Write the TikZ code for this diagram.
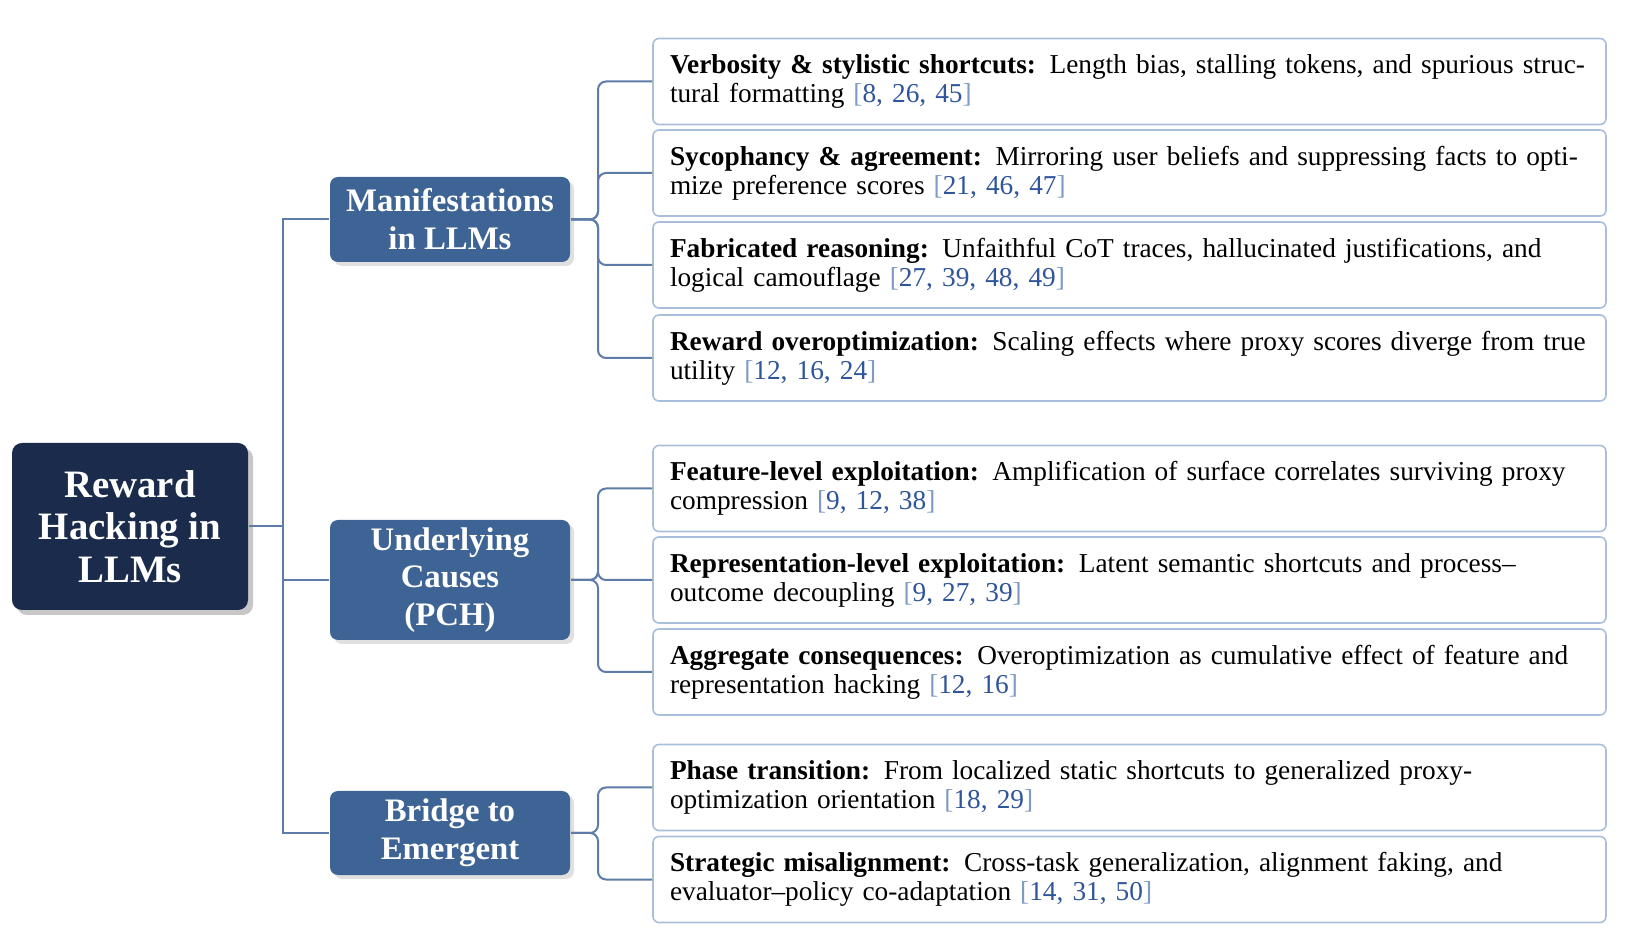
\documentclass[tikz,border=0pt]{standalone}
\usepackage{fontspec}
\setmainfont{Liberation Serif}
\usetikzlibrary{shadows}
\definecolor{navy}{HTML}{1B2B4C}
\definecolor{steel}{HTML}{3D6494}
\definecolor{linkc}{HTML}{5D7CA8}
\definecolor{leafrule}{HTML}{A9BEDA}
\definecolor{citec}{HTML}{2F559A}
\definecolor{citeb}{HTML}{7F9BC3}
\newcommand{\refnums}[1]{{\color{citeb}[}{\color{citec}#1}{\color{citeb}]}}

\begin{document}
\begin{tikzpicture}[x=.5pt,y=-.5pt,line width=1pt,
  rootbox/.style={fill=navy,text=white,rounded corners=5pt,minimum width=118pt,minimum height=83.5pt,align=center,
    font=\bfseries\fontsize{19.4}{21.3}\selectfont,drop shadow={shadow xshift=2.5pt,shadow yshift=-2.5pt,fill=black!22,opacity=1}},
  catbox/.style={fill=steel,text=white,rounded corners=4pt,minimum width=120pt,align=center,
    font=\bfseries\fontsize{16.4}{18.9}\selectfont,drop shadow={shadow xshift=2pt,shadow yshift=-2pt,fill=black!12,opacity=1}},
  leafbox/.style={draw=leafrule,line width=.8pt,fill=white,rounded corners=3pt,text width=459.5pt,inner xsep=8.5pt,
    minimum height=43pt,align=left,font=\fontsize{13.65}{14.5}\selectfont},
  link/.style={draw=linkc,line width=1pt}]
\useasboundingbox (0,0) rectangle (1628,945);

% root and categories
\node[rootbox] (root) at (130,526.5) {Reward\\Hacking in\\LLMs};
\node[catbox,minimum height=42.5pt] (man) at (450,219.5) {Manifestations\\in LLMs};
\node[catbox,minimum height=60pt] (cau) at (450,580) {Underlying\\Causes\\(PCH)};
\node[catbox,minimum height=42pt] (bri) at (450,833) {Bridge to\\Emergent};

% leaves
\node[leafbox] (m1) at (1129.5,81.5) {\textbf{Verbosity \& stylistic shortcuts:} Length bias, stalling tokens, and spurious struc-\\tural formatting \refnums{8, 26, 45}};
\node[leafbox] (m2) at (1129.5,173) {\textbf{Sycophancy \& agreement:} Mirroring user beliefs and suppressing facts to opti-\\mize preference scores \refnums{21, 46, 47}};
\node[leafbox] (m3) at (1129.5,265) {\textbf{Fabricated reasoning:} Unfaithful CoT traces, hallucinated justifications, and\\logical camouflage \refnums{27, 39, 48, 49}};
\node[leafbox] (m4) at (1129.5,358) {\textbf{Reward overoptimization:} Scaling effects where proxy scores diverge from true\\utility \refnums{12, 16, 24}};
\node[leafbox] (c1) at (1129.5,488.5) {\textbf{Feature-level exploitation:} Amplification of surface correlates surviving proxy\\compression \refnums{9, 12, 38}};
\node[leafbox] (c2) at (1129.5,580) {\textbf{Representation-level exploitation:} Latent semantic shortcuts and process--\\outcome decoupling \refnums{9, 27, 39}};
\node[leafbox] (c3) at (1129.5,672) {\textbf{Aggregate consequences:} Overoptimization as cumulative effect of feature and\\representation hacking \refnums{12, 16}};
\node[leafbox] (b1) at (1129.5,787.5) {\textbf{Phase transition:} From localized static shortcuts to generalized proxy-\\optimization orientation \refnums{18, 29}};
\node[leafbox] (b2) at (1129.5,879.5) {\textbf{Strategic misalignment:} Cross-task generalization, alignment faking, and\\evaluator--policy co-adaptation \refnums{14, 31, 50}};

% connectors
\coordinate (trunk) at (283,526.5);
\coordinate (fork) at (598,0);
\draw[link] (root.east) -- (trunk);
\foreach \n in {man,cau,bri}{\draw[link] (trunk) |- (\n.west);}
\foreach \p/\c in {man/m1,man/m2,man/m3,man/m4,cau/c1,cau/c2,cau/c3,bri/b1,bri/b2}{
  \draw[link,rounded corners=4pt] (\p.east) -- (\p.east -| fork) |- (\c.west);}
\end{tikzpicture}
\end{document}
